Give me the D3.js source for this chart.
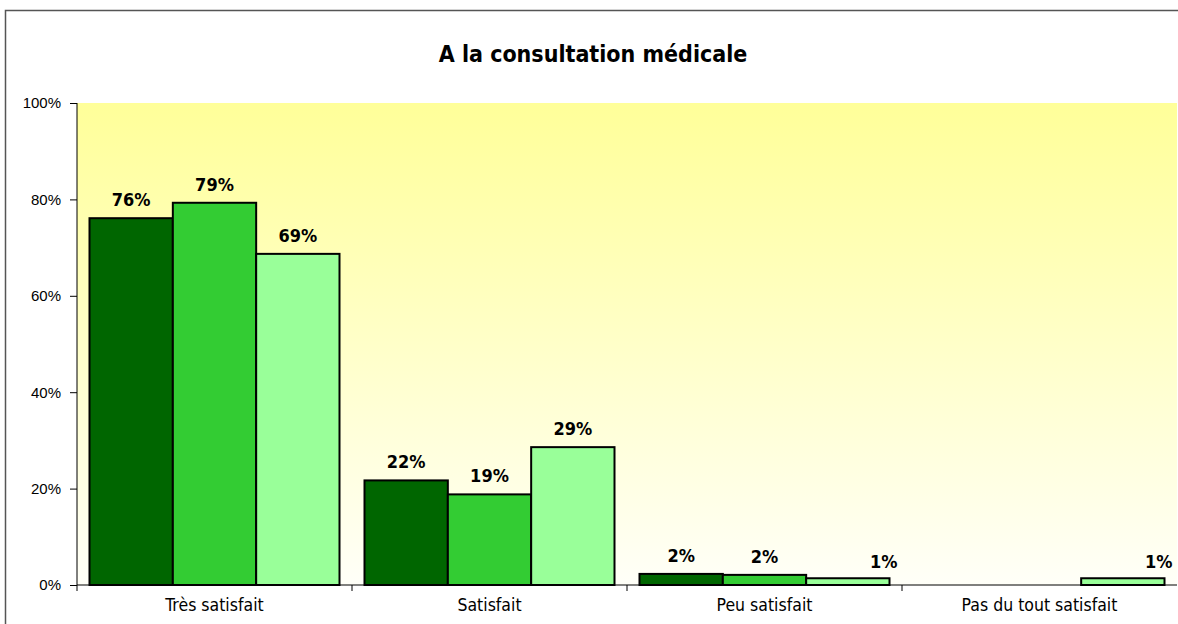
<!DOCTYPE html>
<html>
<head>
<meta charset="utf-8">
<script src="https://cdn.jsdelivr.net/npm/d3@7"></script>
<style>
  body { margin: 0; background: #fff; }
  svg { display: block; }
</style>
</head>
<body>
<div id="chart"></div>
<script>
// données
var title = "A la consultation médicale";
var categories = ["Très satisfait", "Satisfait", "Peu satisfait", "Pas du tout satisfait"];
var series1 = [76.1, 21.7, 2.3, 0];
var series2 = [79.3, 18.8, 2.1, 0];
var series3 = [68.7, 28.6, 1.4, 1.4];
var seriesColors = ["#006600", "#33CC33", "#99FF99"];
var yTicks = [0, 20, 40, 60, 80, 100];

var W = 1178, H = 624;
var mLeft = 77, mRight = 1177, mTop = 103, mBottom = 585;
var condensed = "'DejaVu Sans Condensed', 'DejaVu Sans', sans-serif";

var svg = d3.select("#chart").append("svg")
  .attr("width", W)
  .attr("height", H);

// dégradé du fond
var grad = svg.append("defs").append("linearGradient")
  .attr("id", "bg")
  .attr("x1", 0).attr("y1", 0).attr("x2", 0).attr("y2", 1);
grad.append("stop").attr("offset", "0%").attr("stop-color", "#FFFF99");
grad.append("stop").attr("offset", "100%").attr("stop-color", "#FFFFF8");

// cadre
svg.append("rect")
  .attr("x", 5.5).attr("y", 10.5)
  .attr("width", W + 10).attr("height", H + 10)
  .style("fill", "#fff")
  .style("stroke", "#555")
  .style("stroke-width", 1.5);

svg.append("rect")
  .attr("x", mLeft).attr("y", mTop)
  .attr("width", mRight - mLeft).attr("height", mBottom - mTop)
  .style("fill", "url(#bg)");

// titre
svg.append("text")
  .attr("x", 593).attr("y", 62)
  .attr("text-anchor", "middle")
  .style("font-family", condensed)
  .style("font-weight", "bold")
  .style("font-size", "23px")
  .text(title);

var x = d3.scaleBand().domain(categories).range([mLeft, mRight]).paddingInner(0).paddingOuter(0);
var y = d3.scaleLinear().domain([0, 100]).range([mBottom, mTop]);

var rows = [];
categories.forEach(function(c, i) {
  [series1, series2, series3].forEach(function(s, j) {
    rows.push({ cat: c, s: j, v: s[i] });
  });
});

var groupPad = 12.5;
var barW = (x.bandwidth() - 2 * groupPad) / 3;

function barX(d) { return x(d.cat) + groupPad + d.s * barW; }

svg.selectAll(".bar")
  .data(rows.filter(function(d) { return d.v > 0; }))
  .enter().append("rect")
  .attr("class", "bar")
  .attr("x", barX)
  .attr("y", function(d) { return y(d.v); })
  .attr("width", barW)
  .attr("height", function(d) { return mBottom - y(d.v); })
  .style("fill", function(d) { return seriesColors[d.s]; })
  .style("stroke", "#000")
  .style("stroke-width", 2);

// étiquettes (les très petites valeurs sont poussées à droite, comme Excel)
svg.selectAll(".lbl")
  .data(rows.filter(function(d) { return d.v > 0; }))
  .enter().append("text")
  .attr("class", "lbl")
  .attr("x", function(d) { return d.v < 2 ? barX(d) + barW + 8 : barX(d) + barW / 2; })
  .attr("y", function(d) { return y(d.v) - (d.v < 2 ? 10 : 12); })
  .attr("text-anchor", function(d) { return d.v < 2 ? "end" : "middle"; })
  .style("font-family", condensed)
  .style("font-weight", "bold")
  .style("font-size", "18px")
  .text(function(d) { return Math.round(d.v) + "%"; });

// axes
var yAxis = d3.axisLeft(y).tickValues(yTicks).tickSize(7).tickPadding(9)
  .tickFormat(function(d) { return d + "%"; });
var gy = svg.append("g").attr("transform", "translate(" + mLeft + ",0)").call(yAxis);
gy.select(".domain").attr("d", "M0," + mTop + "V" + mBottom);
gy.selectAll("text")
  .style("font-family", "'Liberation Sans', Arial, sans-serif")
  .style("font-size", "15px")
  .style("fill", "#000");

var xAxis = d3.axisBottom(x).tickSize(0).tickPadding(14);
var gx = svg.append("g").attr("transform", "translate(0," + mBottom + ")").call(xAxis);
gx.select(".domain").attr("d", "M" + mLeft + ",0H" + mRight);
gx.selectAll("text")
  .style("font-family", condensed)
  .style("font-size", "17.5px")
  .style("fill", "#000");

// séparateurs de catégories
svg.selectAll(".sep")
  .data(categories)
  .enter().append("line")
  .attr("class", "sep")
  .attr("x1", function(d) { return x(d); })
  .attr("x2", function(d) { return x(d); })
  .attr("y1", mBottom)
  .attr("y2", mBottom + 6)
  .style("stroke", "#000");
</script>
</body>
</html>
